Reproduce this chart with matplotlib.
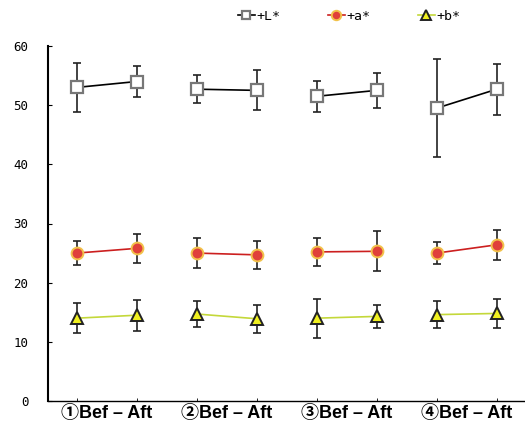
import matplotlib
matplotlib.use("Agg")
from matplotlib import pyplot as plt
import numpy as np

groups = ['①Bef – Aft', '②Bef – Aft', '③Bef – Aft', '④Bef – Aft']

L_mean = [53.0, 54.0, 52.7, 52.5, 51.5, 52.5, 49.5, 52.7]
L_err = [4.1, 2.7, 2.4, 3.4, 2.6, 3.0, 8.3, 4.3]
a_mean = [25.0, 25.8, 25.0, 24.7, 25.2, 25.3, 25.0, 26.4]
a_err = [2.0, 2.5, 2.6, 2.4, 2.4, 3.4, 1.8, 2.5]
b_mean = [14.0, 14.5, 14.7, 13.9, 14.0, 14.3, 14.6, 14.8]
b_err = [2.5, 2.6, 2.2, 2.4, 3.3, 1.9, 2.3, 2.5]

mono = 'DejaVu Sans Mono'

fig = plt.figure(figsize=(5.25, 4.33), dpi=100)
ax = fig.add_axes([48/525, 32/433, 477/525, 355/433])

x = np.arange(8)

series = [
    (L_mean, L_err, '+L*', dict(color='black', marker='s', mfc='white', mec='#777777', ms=8, mew=1.6)),
    (a_mean, a_err, '+a*', dict(color='#cc1f1f', marker='o', mfc='#e0403a', mec='#f2c24a', ms=8.5, mew=1.4)),
    (b_mean, b_err, '+b*', dict(color='#c4d83a', marker='^', mfc='#f0f020', mec='#222222', ms=8.5, mew=1.4)),
]

handles = []
for mean, err, name, st in series:
    ax.errorbar(x, mean, yerr=err, fmt='none', ecolor='#222222', elinewidth=1.2,
                capsize=3, capthick=1.2, zorder=2)
    for g in range(4):
        i = 2 * g
        h, = ax.plot(x[i:i+2], mean[i:i+2], lw=1.2, zorder=3, **st)
    handles.append(h)

ax.set_xlim(-0.48, 7.47)
ax.set_ylim(0, 60)
ax.set_yticks([0, 10, 20, 30, 40, 50, 60])
ax.tick_params(axis='y', direction='in', length=3, labelsize=9, pad=14)
for t in ax.get_yticklabels():
    t.set_fontfamily(mono)

ax.set_xticks(x)
ax.set_xticklabels([])
ax.tick_params(axis='x', which='major', direction='in', length=2, width=0.6)
ax.set_xticks([0.5, 2.5, 4.5, 6.5], minor=True)
ax.set_xticklabels(groups, minor=True)
ax.tick_params(axis='x', which='minor', length=0, pad=3)
for t in ax.get_xticklabels(minor=True):
    t.set_fontfamily(['Liberation Sans', 'Noto Sans CJK JP', 'DejaVu Sans'])
    t.set_fontweight('bold')
    t.set_fontsize(13)

ax.spines['top'].set_visible(False)
ax.spines['right'].set_visible(False)
ax.spines['left'].set_linewidth(1.5)
ax.spines['bottom'].set_linewidth(1.0)

fig.legend(handles, [s[2] for s in series], loc='center', bbox_to_anchor=(0.665, 0.962),
           ncol=3, frameon=False, handlelength=1.3, handletextpad=0.1,
           columnspacing=3.6, prop={'family': mono, 'size': 9.5}, markerscale=0.8)

fig.savefig('out.png', dpi=100)
